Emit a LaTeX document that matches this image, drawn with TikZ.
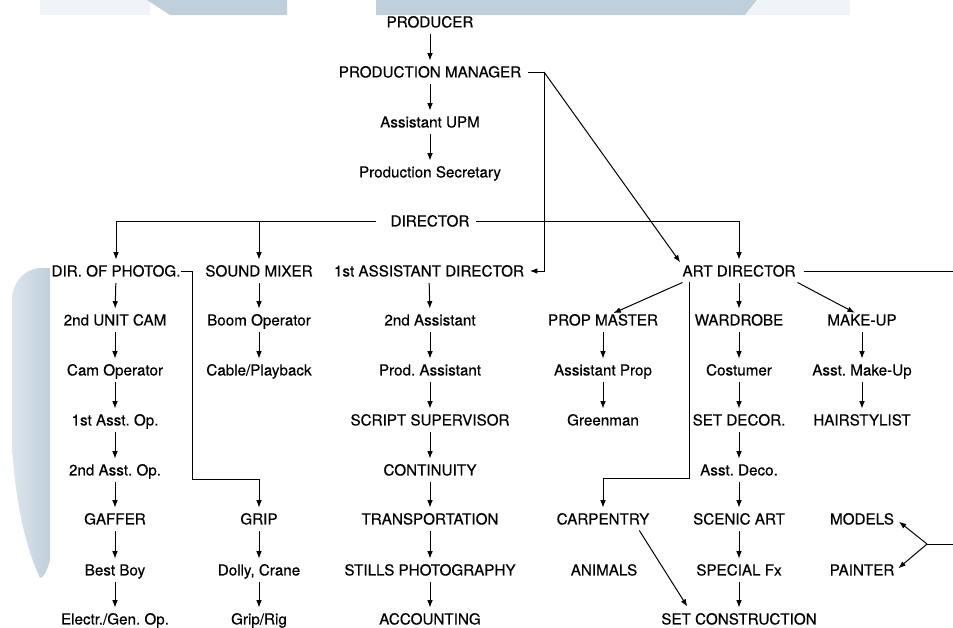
\documentclass[tikz,border=0pt]{standalone}
\usepackage{fontspec}
\setmainfont{TeX Gyre Heros}[FakeBold=0.4]
\usetikzlibrary{arrows.meta,calc}
\definecolor{bgblue}{RGB}{192,207,220}
\definecolor{bgfaint}{RGB}{240,243,247}
\frenchspacing
\begin{document}
\begin{tikzpicture}[x=0.75pt,y=-0.75pt,
  lbl/.style={inner sep=0pt,outer sep=0pt,text height=8.2pt,text depth=0pt,font=\fontsize{11.4}{13}\selectfont},
  ln/.style={line width=0.75pt,black},
  arr/.style={ln,-{Latex[length=5.5pt,width=4.2pt]},shorten >=4.5pt},
  vert/.style={arr,shorten <=5pt}]
\useasboundingbox (0,0) rectangle (953,628);
% background decoration
\fill[bgfaint] (40,0) rectangle (150,15);
\fill[bgblue] (147,0) -- (287,0) -- (287,15) -- (170,15) -- cycle;
\fill[bgblue] (376,0) -- (757,0) -- (745,15) -- (376,15) -- cycle;
\fill[bgfaint] (757,0) -- (850,0) -- (850,15) -- (745,15) -- cycle;
\shade[left color=bgblue!55!white,right color=bgblue] (50,268) -- (50,560) .. controls (46,575) and (42,578) .. (40,578) .. controls (22,540) and (12,480) .. (12,430) -- (12,300) .. controls (12,282) and (25,268) .. (42,268) -- cycle;

% top column
\node[lbl] (prod) at (430,22) {PRODUCER};
\node[lbl] (pm) at (430,72) {PRODUCTION MANAGER};
\node[lbl] (upm) at (430,122) {Assistant UPM};
\node[lbl] (psec) at (430,172) {Production Secretary};
\node[lbl] (dir) at (430,221) {DIRECTOR};

% row 1
\node[lbl] (dop) at (116,271) {DIR. OF PHOTOG.};
\node[lbl] (sm) at (259,271) {SOUND MIXER};
\node[lbl] (fad) at (429,271) {1st ASSISTANT DIRECTOR};
\node[lbl] (ad) at (739,271) {ART DIRECTOR};
% row 2
\node[lbl] (uc) at (115,320) {2nd UNIT CAM};
\node[lbl] (boom) at (259,320) {Boom Operator};
\node[lbl] (sa) at (430,320) {2nd Assistant};
\node[lbl] (pmast) at (603,320) {PROP MASTER};
\node[lbl] (ward) at (739,320) {WARDROBE};
\node[lbl] (mu) at (862,320) {MAKE-UP};
% row 3
\node[lbl] (camop) at (115,370) {Cam Operator};
\node[lbl] (cable) at (259,370) {Cable/Playback};
\node[lbl] (prodass) at (430,370) {Prod. Assistant};
\node[lbl] (aprop) at (603,370) {Assistant Prop};
\node[lbl] (cost) at (739,370) {Costumer};
\node[lbl] (amu) at (862,370) {Asst. Make-Up};
% row 4
\node[lbl] (aopa) at (115,420) {1st Asst. Op.};
\node[lbl] (ss) at (430,420) {SCRIPT SUPERVISOR};
\node[lbl] (green) at (603,420) {Greenman};
\node[lbl] (setdec) at (739,420) {SET DECOR.};
\node[lbl] (hair) at (862,420) {HAIRSTYLIST};
% row 5
\node[lbl] (aopb) at (115,470) {2nd Asst. Op.};
\node[lbl] (cont) at (430,470) {CONTINUITY};
\node[lbl] (adeco) at (739,470) {Asst. Deco.};
% row 6
\node[lbl] (gaffer) at (115,519) {GAFFER};
\node[lbl] (grip) at (259,519) {GRIP};
\node[lbl] (trans) at (430,519) {TRANSPORTATION};
\node[lbl] (carp) at (603,519) {CARPENTRY};
\node[lbl] (scenic) at (739,519) {SCENIC ART};
\node[lbl] (models) at (862,519) {MODELS};
% row 7
\node[lbl] (bestboy) at (115,570) {Best Boy};
\node[lbl] (dolly) at (259,570) {Dolly, Crane};
\node[lbl] (stills) at (430,570) {STILLS PHOTOGRAPHY};
\node[lbl] (animals) at (604,570) {ANIMALS};
\node[lbl] (sfx) at (739,570) {SPECIAL Fx};
\node[lbl] (painter) at (862,570) {PAINTER};
% row 8
\node[lbl] (elec) at (115,619) {Electr./Gen. Op.};
\node[lbl] (griprig) at (259,619) {Grip/Rig};
\node[lbl] (acct) at (430,619) {ACCOUNTING};
\node[lbl] (setcon) at (739,619) {SET CONSTRUCTION};

% vertical chains
\foreach \a/\b in {prod/pm,pm/upm,upm/psec,
  dop/uc,uc/camop,camop/aopa,aopa/aopb,aopb/gaffer,gaffer/bestboy,bestboy/elec,
  sm/boom,boom/cable,grip/dolly,dolly/griprig,
  fad/sa,sa/prodass,prodass/ss,ss/cont,cont/trans,trans/stills,stills/acct,
  pmast/aprop,aprop/green,
  ad/ward,ward/cost,cost/setdec,setdec/adeco,adeco/scenic,scenic/sfx,sfx/setcon,
  mu/amu,amu/hair}
  \draw[vert] (\a.south) -- (\b.north);

% director branches
\draw[arr] ($(dir.west)+(-15,0)$) -| (dop.north);
\draw[arr] (sm.north |- dir.center) -- (sm.north);
\draw[arr] ($(dir.east)+(7,0)$) -| (ad.north);

% production manager links
\coordinate (pmc) at (544,72);
\draw[ln] ($(pm.east)+(7,0)$) -- (pmc);
\draw[arr] (pmc) |- (fad.east);
\draw[arr,shorten >=3pt] (pmc) -- (ad.north west);

% DP hook to grip
\coordinate (hook) at (192,479);
\draw[arr] ($(dop.east)+(1,0)$) -| (hook) -| (grip.north);

% art director branches
\draw[arr] ($(ad.south west)+(0,6)$) -- ($(pmast.north)+(5,1)$);
\draw[arr] ($(ad.south east)+(2,6)$) -- ($(mu.north)+(-2,1)$);
\draw[arr] ($(ad.south west)+(7,6)$) |- ($(carp.north)+(0,-35)$) -- (carp.north);
\coordinate (redgea) at (953,271);
\draw[ln] ($(ad.east)+(8,0)$) -- (redgea);

% carpentry to set construction
\draw[arr,shorten >=0pt] ($(carp.south east)+(-10,6)$) -- ($(setcon.north west)+(26,-7)$);

% right junction to models and painter
\coordinate (jn) at (927,544);
\coordinate (redgeb) at (953,544);
\draw[ln] (redgeb) -- (jn);
\draw[arr,shorten >=2pt] (jn) -- ($(models.east)+(3,1)$);
\draw[arr,shorten >=2pt] (jn) -- ($(painter.east)+(2,0)$);
\end{tikzpicture}
\end{document}
